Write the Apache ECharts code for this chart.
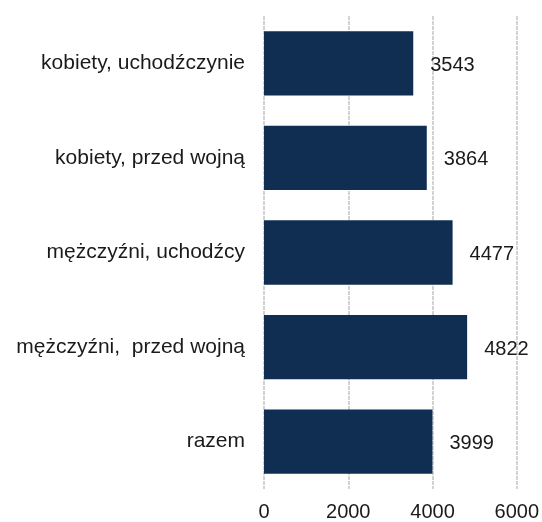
<!DOCTYPE html>
<html>
<head>
<meta charset="utf-8">
<script src="https://cdn.jsdelivr.net/npm/echarts@6/dist/echarts.min.js"></script>
<style>
  html, body { margin: 0; padding: 0; background: #fff; }
  #chart { width: 542px; height: 522px; }
</style>
</head>
<body>
<div id="chart"></div>
<script>
  // kategorie od góry do dołu
  const categories = [
    'kobiety, uchodźczynie',
    'kobiety, przed wojną',
    'mężczyźni, uchodźcy',
    'mężczyźni,  przed wojną',
    'razem'
  ];
  const values = [3543, 3864, 4477, 4822, 3999];
  const xTicks = [0, 2000, 4000, 6000];

  const chart = echarts.init(document.getElementById('chart'));
  chart.setOption({
    animation: false,
    grid: { left: 264, right: 25, top: 16, bottom: 32, containLabel: false },
    xAxis: {
      type: 'value',
      min: xTicks[0],
      max: xTicks[xTicks.length - 1],
      interval: 2000,
      axisLine: { show: false },
      axisTick: { show: false },
      axisLabel: {
        color: '#1a1a1a', fontSize: 20, fontFamily: 'Liberation Sans', margin: 13,
        formatter: (v) => String(v)
      },
      splitLine: { lineStyle: { color: '#d2d2d2', width: 2, type: [4, 1] } }
    },
    yAxis: {
      type: 'category',
      inverse: true,
      data: categories,
      axisLine: { show: false },
      axisTick: { show: false },
      axisLabel: { color: '#1a1a1a', fontSize: 21, fontFamily: 'Liberation Sans', margin: 19 }
    },
    series: [{
      type: 'bar',
      data: values,
      barCategoryGap: '32%',
      itemStyle: { color: '#0f2e52' },
      label: {
        show: true,
        position: 'right',
        distance: 17,
        offset: [0, 2],
        color: '#1a1a1a',
        fontSize: 20,
        fontFamily: 'Liberation Sans'
      }
    }]
  });
</script>
</body>
</html>
